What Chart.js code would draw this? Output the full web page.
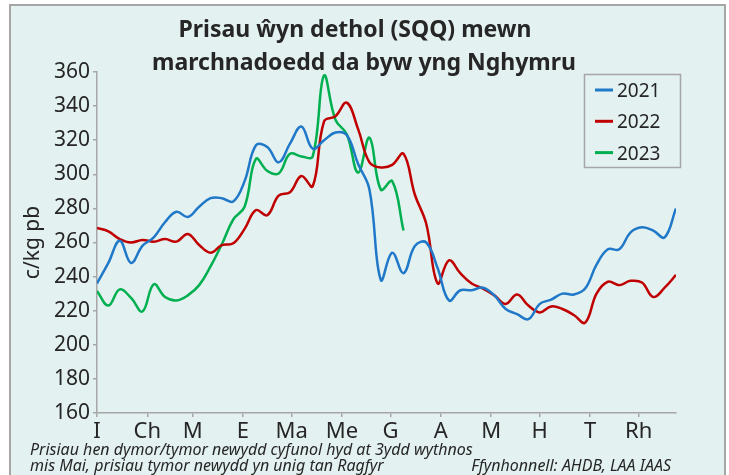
<!DOCTYPE html>
<html lang="cy">
<head>
<meta charset="utf-8">
<title>Prisau ŵyn dethol (SQQ)</title>
<script src="https://cdn.jsdelivr.net/npm/chart.js@4.4.1/dist/chart.umd.min.js"></script>
<style>
    html, body { margin: 0; padding: 0; background: #ffffff; }
    #cadre {
        position: absolute; left: 9px; top: 4px; width: 717px; height: 490px;
        box-sizing: border-box; border: 2px solid #a6a6a6; background: #e4f1f1;
    }
    #zone { position: absolute; left: 0; top: 0; width: 729px; height: 475px; }
</style>
</head>
<body>
<div id="cadre"></div>
<div id="zone"><canvas id="graphique"></canvas></div>
<script>
// Données : prix hebdomadaires (c/kg pb), semaine 0 = début janvier
const prix2021 = [236, 248, 261, 248, 258, 263, 272, 278, 275, 281, 286, 286, 284, 296, 317, 316, 307, 318, 328, 315,
    320, 324.5, 323, 306, 291, 238, 254, 242, 258, 260, 245, 226, 232, 232, 233.5, 229, 221, 218, 215, 224,
    226.5, 230, 229.5, 233, 247, 256, 256, 266, 269, 267, 263, 280];
const prix2022 = [268.5, 266.5, 262, 260, 261.5, 260.5, 262, 260.5, 265, 258.5, 254, 258.5, 259.5, 268, 279, 276, 287.5, 289.5, 299, 293,
    331, 334, 342, 326.5, 307, 304, 305.5, 312, 288, 271, 236, 249.5, 242, 236, 233, 229, 224, 229.5, 223, 219,
    222.5, 221, 217.5, 213, 230, 237, 235, 237.5, 236.5, 228, 233.5, 241];
const prix2023 = [231.5, 223, 232.5, 227.5, 219.5, 235.5, 228, 226, 229, 235, 246, 259, 273.5, 281, 309, 302, 300.5, 312, 310.5, 310.5,
    358, 332, 323.5, 301, 321.5, 291, 296, 267];

const annees = ['2021', '2022', '2023'];
const couleurs = ['#1f78c8', '#c00000', '#00b050'];

// Étiquettes des mois (gallois) et jour de l'année où chaque mois commence
const moisEtiquettes = ['I', 'Ch', 'M', 'E', 'Ma', 'Me', 'G', 'A', 'M', 'H', 'T', 'Rh'];
const moisJours = [0, 31, 59, 90, 120, 151, 181, 212, 243, 273, 304, 334];

const titreLignes = ['Prisau ŵyn dethol (SQQ) mewn', 'marchnadoedd da byw yng Nghymru'];
const noteLignes = ['Prisiau hen dymor/tymor newydd cyfunol hyd at 3ydd wythnos', 'mis Mai, prisiau tymor newydd yn unig tan Ragfyr'];
const source = 'Ffynhonnell: AHDB, LAA IAAS';

const texteCouleur = '#262626';
const axeCouleur = '#a6a6a6';
const police = '"Noto Sans", "Open Sans", sans-serif';


function versPoints(valeurs) {
    // Chaque valeur hebdomadaire est placée au jour de l'année correspondant
    return valeurs.map((v, i) => ({ x: i * 7, y: v }));
}


// Titre, légende encadrée et notes de bas de page
const decor = {
    id: 'decor',
    afterDraw(chart) {
        const ctx = chart.ctx;
        ctx.save();
        ctx.fillStyle = texteCouleur;
        ctx.textAlign = 'center';
        ctx.textBaseline = 'alphabetic';
        ctx.font = 'bold 23px ' + police;
        ctx.fillText(titreLignes[0], 355, 37);
        ctx.fillText(titreLignes[1], 364, 70);

        // légende
        ctx.fillStyle = '#e4f1f1';
        ctx.fillRect(584.5, 74.5, 96, 93);
        ctx.strokeStyle = axeCouleur;
        ctx.lineWidth = 1.5;
        ctx.strokeRect(584.5, 74.5, 96, 93);
        chart.data.datasets.forEach((ds, i) => {
            const y = 90 + i * 31.3;
            ctx.strokeStyle = ds.borderColor;
            ctx.lineWidth = 3;
            ctx.beginPath();
            ctx.moveTo(595, y);
            ctx.lineTo(613, y);
            ctx.stroke();
            ctx.fillStyle = texteCouleur;
            ctx.textAlign = 'left';
            ctx.font = '19px ' + police;
            ctx.fillText(ds.label, 617, y + 7);
        });

        // notes
        ctx.font = 'italic 16px ' + police;
        ctx.textAlign = 'left';
        ctx.fillText(noteLignes[0], 30, 455);
        ctx.fillText(noteLignes[1], 30, 471);
        ctx.textAlign = 'right';
        ctx.fillText(source, 671, 471);
        ctx.restore();
    }
};


new Chart(document.getElementById('graphique'), {
    type: 'line',
    data: {
        datasets: [prix2021, prix2022, prix2023].map((serie, i) => ({
            label: annees[i],
            data: versPoints(serie),
            borderColor: couleurs[i],
            borderWidth: 2.5,
            pointRadius: 0,
            tension: 0.4,
            fill: false,
        })),
    },
    options: {
        responsive: true,
        maintainAspectRatio: false,
        animation: false,
        devicePixelRatio: 1,
        layout: {
            padding: { left: 10, right: 53, top: 72, bottom: 0 },
        },
        scales: {
            x: {
                type: 'linear',
                min: 0,
                max: 357,
                afterBuildTicks: (echelle) => {
                    echelle.ticks = moisJours.map(j => ({ value: j }));
                },
                afterFit: (echelle) => { echelle.height = 62; },
                ticks: {
                    autoSkip: false,
                    maxRotation: 0,
                    padding: 2,
                    color: texteCouleur,
                    font: { family: police, size: 22 },
                    callback: (valeur) => moisEtiquettes[moisJours.indexOf(valeur)],
                },
                grid: { drawOnChartArea: false, tickLength: 4, color: axeCouleur, lineWidth: 1.5 },
                border: { color: axeCouleur, width: 1.5 },
            },
            y: {
                min: 160,
                max: 360,
                afterFit: (echelle) => { echelle.width = 87; },
                ticks: {
                    stepSize: 20,
                    padding: 3,
                    color: texteCouleur,
                    font: { family: police, size: 21 },
                },
                grid: { drawOnChartArea: false, tickLength: 4, color: axeCouleur, lineWidth: 1.5 },
                border: { color: axeCouleur, width: 1.5 },
                title: {
                    display: true,
                    text: 'c/kg pb',
                    color: texteCouleur,
                    font: { family: police, size: 21 },
                    padding: { top: 10, bottom: 0 },
                },
            },
        },
        plugins: {
            legend: { display: false },
            tooltip: { enabled: false },
        },
    },
    plugins: [decor],
});
</script>
</body>
</html>
